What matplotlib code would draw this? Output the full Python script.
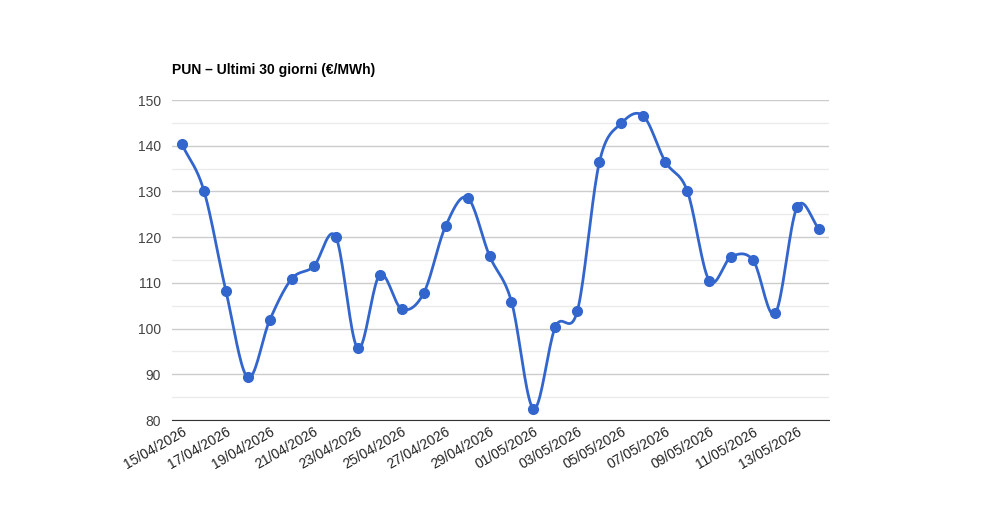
import numpy as np
import matplotlib.pyplot as plt
import datetime as dt

start = dt.date(2026, 4, 15)
dates = [start + dt.timedelta(days=i) for i in range(30)]
prices = [140.3, 130.2, 108.3, 89.3, 101.9, 110.9, 113.6, 120.1, 95.7, 111.7,
          104.3, 107.7, 122.4, 128.6, 115.9, 105.9, 82.5, 100.4, 103.9, 136.4,
          144.9, 146.5, 136.5, 130.1, 110.5, 115.7, 114.9, 103.3, 126.6, 121.8]
tick_labels = [d.strftime('%d/%m/%Y') for d in dates[::2]]


def smooth(x, y, n=20):
    # curva tipo catmull-rom tra i punti
    x = np.asarray(x, float); y = np.asarray(y, float)
    px = np.concatenate([[2*x[0]-x[1]], x, [2*x[-1]-x[-2]]])
    py = np.concatenate([[2*y[0]-y[1]], y, [2*y[-1]-y[-2]]])
    xs, ys = [], []
    t = np.linspace(0, 1, n, endpoint=False)
    for i in range(1, len(px)-2):
        for p, out in ((px, xs), (py, ys)):
            p0, p1, p2, p3 = p[i-1], p[i], p[i+1], p[i+2]
            out.extend(0.5*((2*p1) + (-p0+p2)*t + (2*p0-5*p1+4*p2-p3)*t**2 + (-p0+3*p1-3*p2+p3)*t**3))
    xs.append(x[-1]); ys.append(y[-1])
    return np.array(xs), np.array(ys)


plt.rcParams['font.family'] = ['Liberation Sans', 'DejaVu Sans']
fig = plt.figure(figsize=(10, 5.2), dpi=100)
ax = fig.add_axes([0.172, 1-420/520, 0.657, 320/520])

xi = np.arange(len(prices))
sx, sy = smooth(xi, prices)
ax.plot(sx, sy, color='#3366cc', lw=2, zorder=3)
ax.plot(xi, prices, 'o', color='#3366cc', ms=7, zorder=4)

ax.set_ylim(80, 150)
ax.set_xlim(-0.45, 29.45)
ax.set_yticks(range(80, 151, 10))
ax.set_yticks(range(85, 150, 10), minor=True)
ax.grid(axis='y', which='major', color='#cccccc', lw=1)
ax.grid(axis='y', which='minor', color='#ebebeb', lw=1)
ax.set_axisbelow(True)
for s in ax.spines.values():
    s.set_visible(False)
ax.spines['bottom'].set_visible(True)
ax.spines['bottom'].set_color('#333333')
ax.tick_params(axis='y', which='both', length=0, labelsize=10, labelcolor='#444444', pad=8)
ax.tick_params(axis='x', length=0, labelsize=10, labelcolor='#222222')
ax.set_xticks(xi[::2])
ax.set_xticklabels(tick_labels, rotation=30, ha='right', rotation_mode='anchor')

fig.text(0.172, 1-70/520, 'PUN – Ultimi 30 giorni (€/MWh)', fontsize=10, fontweight='bold', va='center')

plt.savefig('out.png')
